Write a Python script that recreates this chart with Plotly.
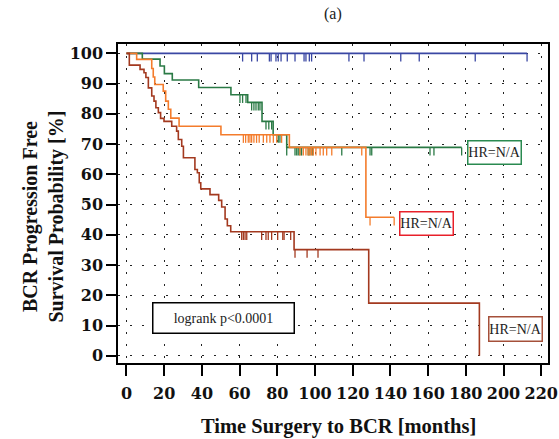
import plotly.graph_objects as go

# ---------------- data ----------------
x_ticks = [0, 20, 40, 60, 80, 100, 120, 140, 160, 180, 200, 220]
y_ticks = [0, 10, 20, 30, 40, 50, 60, 70, 80, 90, 100]

blue_t = [0, 212.5]
blue_s = [100, 100]
blue_cens = [61.6, 66.4, 69.4, 75.8, 76.7, 79.3, 80.5, 82.0, 85.3, 89.4, 94.2,
             95.2, 97.0, 98.2, 118, 126, 145.5, 155.3, 185, 212.5]

green_t = [0, 8.4, 17.8, 20.1, 24.3, 38.3, 55.4, 64.3, 71.9, 77.8, 85.0, 177.8]
green_s = [100, 98.1, 95.8, 93.3, 91.2, 88.7, 86.3, 83.8, 77.5, 73.1, 68.9, 68.9]
green_cens = [60.2, 61.6, 63.4, 66.4, 67.6, 68.7, 69.9, 70.8, 74.0, 75.5, 77.0,
              80.5, 81.4, 85.0, 89.4, 90.3, 91.1, 92.0, 92.9, 96.4, 97.3, 98.8,
              114.2, 129.2, 130.1, 161.0, 163.1, 177.8]

orange_t = [0, 5.4, 13.4, 14.2, 15.0, 19.5, 20.8, 22.2, 23.5, 27.9, 50.1, 86.4, 127.0, 142.0]
orange_s = [100, 98.0, 95.0, 92.2, 89.7, 87.5, 84.2, 81.5, 78.6, 75.9, 73.1, 68.9, 45.8, 45.8]
orange_cens = [62.0, 63.2, 64.6, 65.5, 66.4, 67.6, 69.0, 70.4, 72.6, 74.4, 76.1,
               77.9, 79.7, 82.3, 92.0, 93.8, 95.2, 96.4, 97.3, 98.2, 99.1, 100.5,
               102.7, 104.4, 106.2, 108.9, 124.8, 129.2, 142.0]

red_t = [0, 1.5, 7.2, 9.3, 10.3, 11.6, 13.4, 14.6, 15.6, 16.9, 18.1, 19.9, 24.0,
         26.6, 27.5, 29.3, 30.2, 36.3, 37.6, 38.6, 39.4, 44.3, 48.9, 50.5, 52.3,
         53.5, 55.3, 88.9, 128.5, 187.2]
red_s = [100, 96.1, 94.7, 93.6, 92.0, 88.6, 85.9, 84.2, 82.0, 80.4, 78.5, 77.5,
         75.9, 74.3, 71.5, 69.3, 65.5, 61.6, 60.5, 57.2, 55.2, 53.3, 51.4, 49.2,
         45.2, 43.0, 41.0, 35.1, 17.4, 0.0]
red_cens = [61.1, 62.0, 62.9, 63.8, 71.7, 74.0, 75.2, 77.0, 80.2, 82.9, 83.6,
            87.1, 89.4, 95.8, 101.6]

series = [
    ("blue", blue_t, blue_s, blue_cens, "#3a47a3"),
    ("green", green_t, green_s, green_cens, "#2a7a45"),
    ("orange", orange_t, orange_s, orange_cens, "#f47c2c"),
    ("darkred", red_t, red_s, red_cens, "#a3391f"),
]

TICK = 2.7  # censor mark length (survival units)


def level_at(ts, ss, x):
    v = ss[0]
    for t, s in zip(ts, ss):
        if t <= x:
            v = s
    return v


fig = go.Figure()
for name, ts, ss, cens, col in series:
    fig.add_trace(go.Scatter(x=ts, y=ss, mode="lines", line=dict(color=col, width=1.6, shape="hv"),
                             name=name, showlegend=False, hoverinfo="skip"))
    cx, cy = [], []
    for c in cens:
        lv = level_at(ts, ss, c)
        cx += [c, c, None]
        cy += [lv, lv - TICK, None]
    fig.add_trace(go.Scatter(x=cx, y=cy, mode="lines", line=dict(color=col, width=1.3),
                             showlegend=False, hoverinfo="skip"))

serif = "Liberation Serif"
tickserif = "DejaVu Serif"

boxes = [
    (195.3, 67.3, "HR=N/A", "#2a8a50", 52, 22),
    (159.2, 43.6, "HR=N/A", "#e8202a", 52, 22),
    (206.2, 8.7, "HR=N/A", "#a5503a", 52, 23),
    (51.2, 12.5, "logrank p<0.0001", "#000000", 140, 29),
]
for bx, by, txt, bc, w, h in boxes:
    fig.add_annotation(x=bx, y=by, xref="x", yref="y", text=txt, showarrow=False,
                       font=dict(family=serif, size=14, color="#222"),
                       bordercolor=bc, borderwidth=1.5, borderpad=0, width=w, height=h,
                       bgcolor="white", xanchor="center", yanchor="middle")

# titles
fig.add_annotation(x=0.5, y=1, xref="paper", yref="paper", yshift=30, text="(a)",
                   xanchor="center", yanchor="middle",
                   showarrow=False, font=dict(family=serif, size=16, color="#222"))
fig.add_annotation(x=0, y=0.5, xref="paper", yref="paper", xshift=-75, yshift=-13,
                   xanchor="center", yanchor="middle", textangle=-90,
                   text="<b>BCR Progression Free</b><br><b>Survival Probability [%]</b>",
                   showarrow=False,
                   font=dict(family=serif, size=20, color="#111"))
fig.add_annotation(x=0.5, y=0, xref="paper", yref="paper", xshift=5, yshift=-63,
                   xanchor="center", yanchor="middle",
                   text="<b>Time Surgery to BCR [months]</b>", showarrow=False,
                   font=dict(family=serif, size=20.5, color="#111"))

grid = dict(showgrid=True, gridcolor="#222", gridwidth=1, griddash="2px,10px")

fig.update_layout(
    width=559, height=439,
    margin=dict(l=118, r=11, t=44, b=76, autoexpand=False),
    paper_bgcolor="white", plot_bgcolor="white",
    xaxis=dict(range=[-4.5, 223.6], tickvals=x_ticks,
               ticktext=["<b>%d</b>" % v for v in x_ticks],
               ticks="outside", ticklen=11, automargin=False, ticklabelstandoff=4,
               tickwidth=1.5, tickcolor="black", showline=True, linecolor="black",
               linewidth=1.5, mirror=True, zeroline=False,
               tickfont=dict(family=tickserif, size=16, color="#111", weight="bold"),
               **grid),
    yaxis=dict(range=[-2.4, 103.1], tickvals=y_ticks,
               ticktext=["<b>%d</b>" % v for v in y_ticks],
               ticks="outside", ticklen=10, automargin=False,
               tickwidth=1.5, tickcolor="black", showline=True, linecolor="black",
               linewidth=1.5, mirror=True, zeroline=False,
               tickfont=dict(family=tickserif, size=16, color="#111", weight="bold"),
               **grid),
)

fig.write_html("out.html")
